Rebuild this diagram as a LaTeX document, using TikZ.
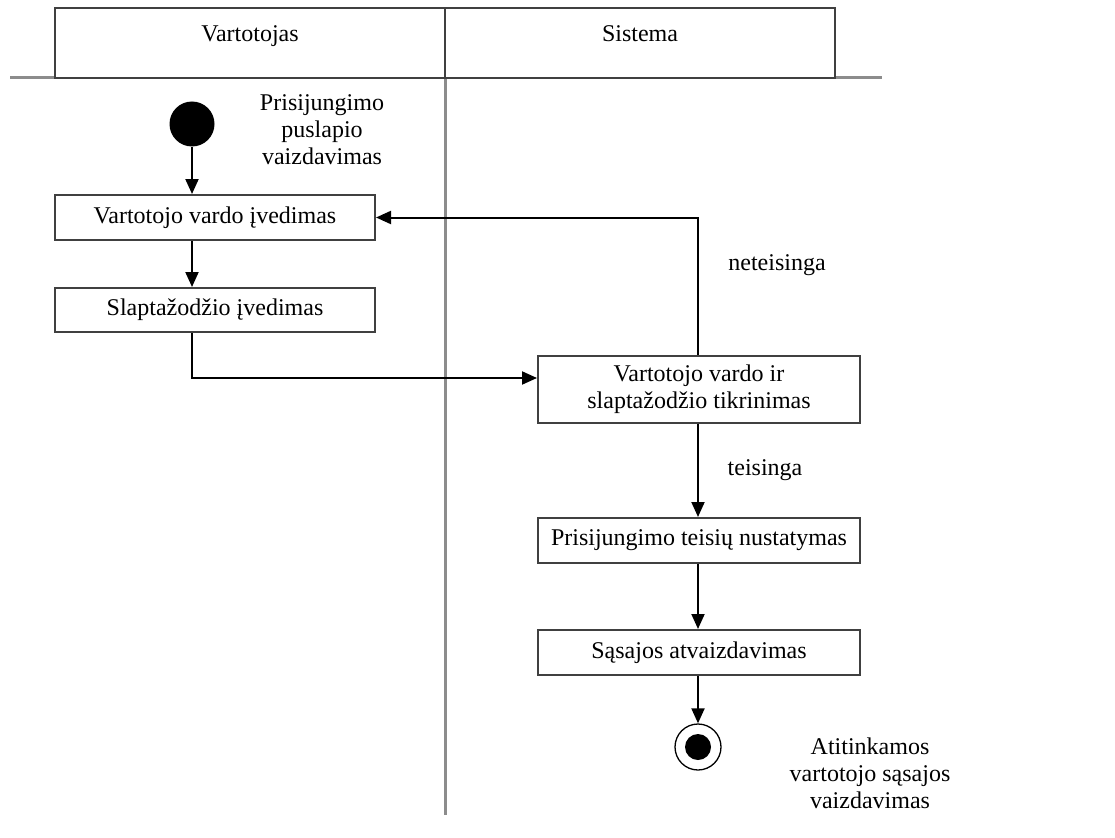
\documentclass[tikz,border=0pt]{standalone}
\usepackage{fontspec}
\setmainfont{Liberation Serif}
\usetikzlibrary{arrows.meta}
\begin{document}
\begin{tikzpicture}[x=1pt,y=-1pt,
  lane/.style={draw=black!45,line width=3pt},
  hdr/.style={draw=black!75,line width=2pt},
  act/.style={draw=black!75,line width=2pt,fill=white,rectangle,inner sep=0pt,align=center,
    font=\fontsize{24}{27}\selectfont},
  lbl/.style={inner sep=0pt,align=center,font=\fontsize{24}{27}\selectfont},
  flow/.style={draw=black,line width=2pt,-{Triangle[length=15pt,width=13pt]}},
]
\useasboundingbox (0,0) rectangle (1115,837);
% swimlanes
\draw[lane] (10,78) -- (882,78);
\draw[lane] (445,78) -- (445,815);
\draw[hdr,fill=white] (55,8) rectangle (445,78);
\draw[hdr,fill=white] (445,8) rectangle (835,78);
\node[lbl,anchor=base] (h1) at (250,42) {Vartotojas};
\node[lbl,anchor=base] (h2) at (640,42) {Sistema};
% start
\node[circle,fill=black,minimum size=45pt,inner sep=0pt] (st) at (192,124) {};
\node[lbl] (stl) at (322,130) {Prisijungimo\\puslapio\\vaizdavimas};
% activities
\node[act,minimum width=320pt,minimum height=45pt] (b1) at (215,217.5) {Vartotojo vardo įvedimas};
\node[act,minimum width=320pt,minimum height=44pt] (b2) at (215,310) {Slaptažodžio įvedimas};
\node[act,minimum width=322pt,minimum height=67pt] (b3) at (699,389) {Vartotojo vardo ir\\slaptažodžio tikrinimas};
\node[act,minimum width=322pt,minimum height=45pt] (b4) at (699,540.5) {Prisijungimo teisių nustatymas};
\node[act,minimum width=322pt,minimum height=45pt] (b5) at (699,652.5) {Sąsajos atvaizdavimas};
% end
\node[circle,draw=black,line width=1.3pt,minimum size=46pt,inner sep=0pt] (en) at (698,747) {};
\node[circle,fill=black,minimum size=26pt,inner sep=0pt] (enin) at (en) {};
\node[lbl] (enl) at (870,773) {Atitinkamos\\vartotojo sąsajos\\vaizdavimas};
% labels
\node[lbl] (neg) at (777,265) {neteisinga};
\node[lbl] (pos) at (765,470) {teisinga};
% connectors
\draw[flow] (st.south) -- (st.south |- b1.north);
\draw[flow] (b1.south -| st) -- (b2.north -| st);
\draw[flow] (b2.south -| st) |- ([yshift=11pt]b3.west);
\draw[flow] (b3.north -| en) |- (b1.east);
\draw[flow] (b3.south -| en) -- (b4.north -| en);
\draw[flow] (b4.south -| en) -- (b5.north -| en);
\draw[flow] (b5.south -| en) -- (en.north);
\end{tikzpicture}
\end{document}
